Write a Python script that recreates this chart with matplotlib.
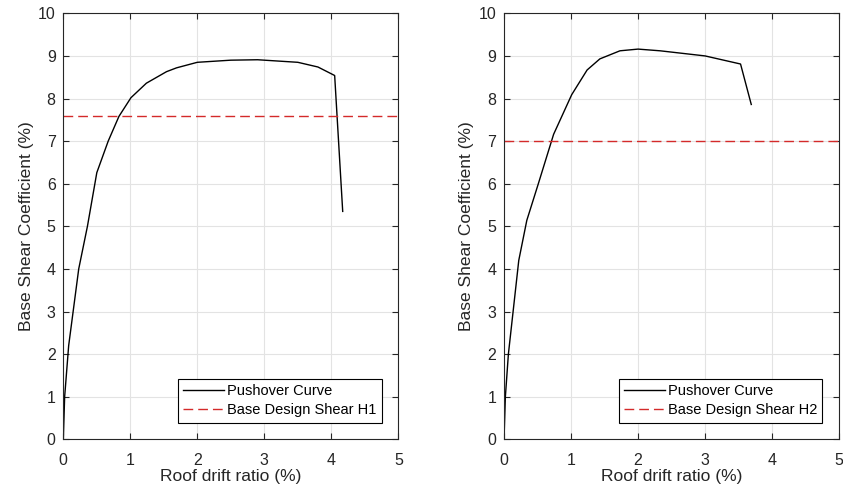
import numpy as np
import matplotlib.pyplot as plt

plt.rcParams['font.family'] = ['Liberation Sans', 'DejaVu Sans']

# pushover curves (roof drift %, base shear coeff %)
drift_h1 = [0, 0.02, 0.08, 0.23, 0.36, 0.50, 0.67, 0.83, 1.01, 1.24,
            1.54, 1.69, 2.0, 2.5, 2.9, 3.5, 3.8, 4.05, 4.17]
shear_h1 = [0, 1.0, 2.2, 4.0, 5.0, 6.26, 7.0, 7.58, 8.02, 8.36,
            8.63, 8.72, 8.85, 8.90, 8.91, 8.85, 8.74, 8.54, 5.35]
design_h1 = 7.6

drift_h2 = [0, 0.02, 0.065, 0.22, 0.34, 0.51, 0.74, 1.01, 1.24, 1.43,
            1.73, 2.0, 2.33, 3.0, 3.53, 3.69]
shear_h2 = [0, 1.0, 2.0, 4.2, 5.14, 5.99, 7.16, 8.09, 8.67, 8.93,
            9.12, 9.16, 9.12, 9.0, 8.81, 7.86]
design_h2 = 7.0

panels = [(drift_h1, shear_h1, design_h1, 'Base Design Shear H1'),
          (drift_h2, shear_h2, design_h2, 'Base Design Shear H2')]

fig = plt.figure(figsize=(8.43, 4.95), dpi=100)
lefts = [0.0751, 0.5979]

for left, (x, y, dv, lab) in zip(lefts, panels):
    ax = fig.add_axes([left, 0.1125, 0.3974, 0.8606])
    ax.plot(x, y, color='black', lw=1.0, label='Pushover Curve')
    ax.axhline(dv, color='#d42a2a', lw=1.0, dashes=(7, 3.6),
               label=lab)
    ax.set_xlim(0, 5)
    ax.set_ylim(0, 10)
    ax.set_xticks(np.arange(0, 6, 1))
    ax.set_yticks(np.arange(0, 11, 1))
    ax.grid(True, color='#e3e3e3', lw=0.8)
    ax.set_axisbelow(True)
    ax.tick_params(direction='in', top=True, right=True, length=4,
                   labelsize=11.5, colors='#262626', width=0.8)
    ax.tick_params(axis='x', pad=9.5)
    ax.tick_params(axis='y', pad=5.5)
    for s in ax.spines.values():
        s.set_color('#262626')
        s.set_linewidth(0.8)
    ax.set_xlabel('Roof drift ratio (%)', fontsize=12.5, color='#262626',
                  labelpad=1)
    ax.set_ylabel('Base Shear Coefficient (%)', fontsize=12.5,
                  color='#262626', labelpad=3)
    leg = ax.legend(loc='lower right', fontsize=10.5, fancybox=False,
                    framealpha=1, edgecolor='black', borderpad=0.35,
                    handlelength=2.8, handletextpad=0.2,
                    labelspacing=0.35, borderaxespad=1.15)
    leg.get_frame().set_linewidth(0.8)

fig.savefig('out.png', dpi=100)
